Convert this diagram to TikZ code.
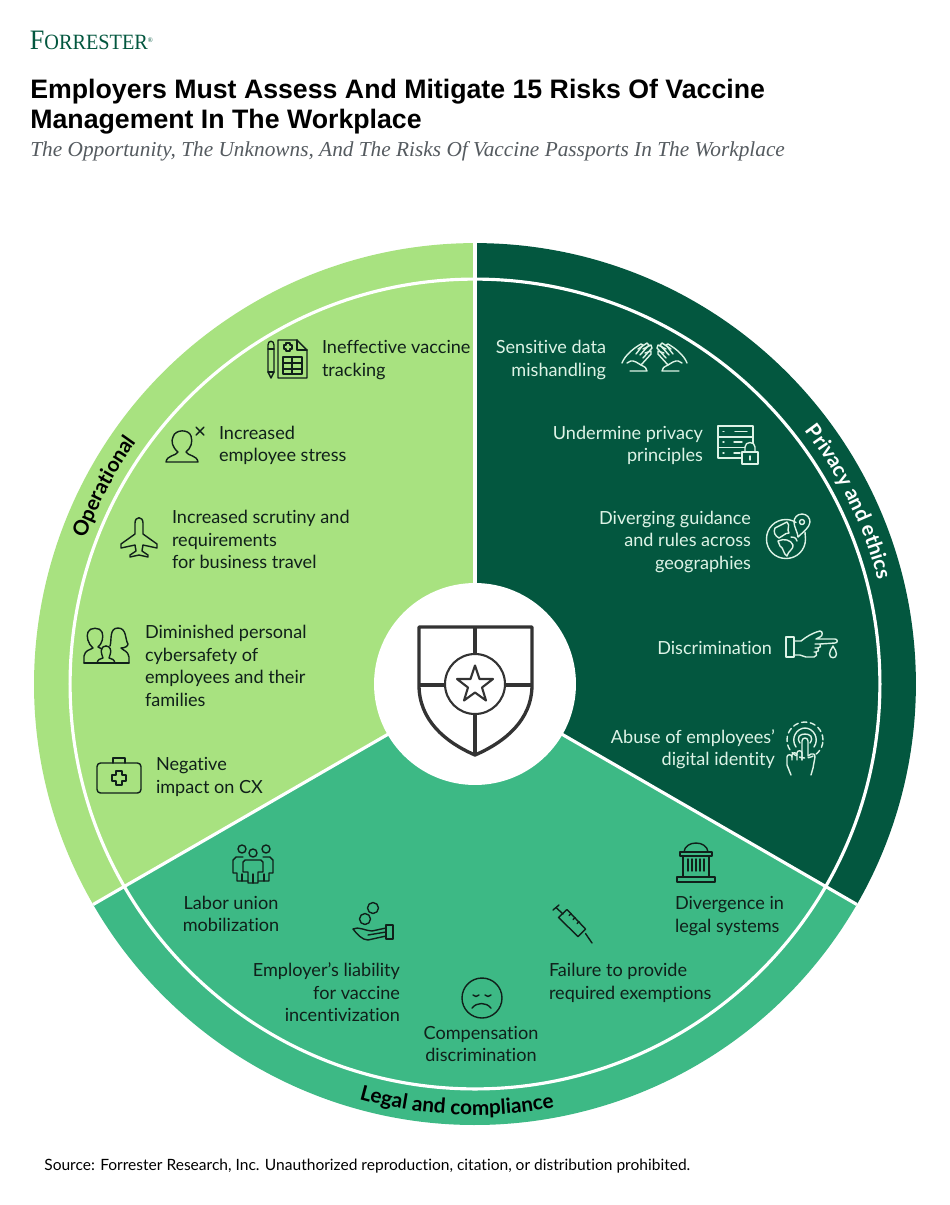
\documentclass[tikz,border=0pt]{standalone}
\usepackage{fontspec}
\setmainfont[Ligatures = {NoCommon}]{Lato}
\newfontfamily\headfont{Liberation Sans}
\newfontfamily\subfont{Liberation Serif}
\newfontfamily\logofont[FakeStretch = 0.93]{Liberation Serif}
\usetikzlibrary{decorations.text}
\definecolor{oplight}{HTML}{A8E280}
\definecolor{privdark}{HTML}{03573F}
\definecolor{legalmid}{HTML}{3DB985}
\definecolor{mint}{HTML}{DDF3E6}
\definecolor{inkdark}{HTML}{10201A}
\definecolor{shieldgrey}{HTML}{333333}
\definecolor{subgrey}{HTML}{555B60}

\begin{document}
\begin{tikzpicture}[
                x = 0.02cm,
                y = -0.02cm,
                lbl/.style = {
                    inner sep = 0pt,
                    outer sep = 0pt,
                    text = #1,
                    font = \fontsize{10.3}{12.8}\selectfont
                },
                lbl/.default = inkdark,
                lbll/.style = {lbl, align = left, anchor = west},
                lblr/.style = {lbl = mint, align = right, anchor = east},
                lblm/.style = {lbl, align = center, anchor = center},
                icon/.style = {
                    draw = #1,
                    line width = 0.8pt,
                    line join = round,
                    line cap = round
                },
                icon/.default = inkdark,
                spoke/.style = {draw = white, line width = 1.8pt},
                arclabel/.style = {
                    decorate,
                    decoration = {
                        text along path,
                        text align = center,
                        text = {|\fontsize{#1}{#1}\selectfont\bfseries\color{\arccolor}|\arctext}
                    }
                }
            ]
            \useasboundingbox (0,0) rectangle (950,1205);
            \fill[white] (0,0) rectangle (950,1205);
            \coordinate (centre) at (475,684);
            % 
            \node[anchor = base west, inner sep = 0pt, text = privdark, font = \logofont] (logo) at (29.5,49)
                {\fontsize{16}{16}\selectfont F\fontsize{12.4}{12}\selectfont ORRESTER\raisebox{3.5pt}{\fontsize{4}{4}\selectfont\textregistered}};
            \node[anchor = west, inner sep = 0pt, align = left, font = \fontsize{15.2}{17.1}\selectfont\headfont\bfseries] (title) at (30,107)
                {Employers Must Assess And Mitigate 15 Risks Of Vaccine\\Management In The Workplace};
            \node[anchor = west, inner sep = 0pt, text = subgrey, font = \fontsize{12.13}{14}\selectfont\subfont\itshape] (subtitle) at (30,151)
                {The Opportunity, The Unknowns, And The Risks Of Vaccine Passports In The Workplace};
            \node[anchor = west, inner sep = 0pt, text = black, font = \fontsize{8.85}{10}\selectfont] (source) at (44,1166)
                {Source: Forrester Research, Inc. Unauthorized reproduction, citation, or distribution prohibited.};
            % 
            % sectors
            \fill[privdark] (centre) -- +(90:8.82cm) arc[start angle = 90, end angle = -30, radius = 8.82cm] -- cycle;
            \fill[legalmid] (centre) -- +(-30:8.82cm) arc[start angle = -30, end angle = -150, radius = 8.82cm] -- cycle;
            \fill[oplight] (centre) -- +(210:8.82cm) arc[start angle = 210, end angle = 90, radius = 8.82cm] -- cycle;
            \draw[spoke] (centre) -- +(90:8.82cm);
            \draw[spoke] (centre) -- +(-30:8.82cm);
            \draw[spoke] (centre) -- +(210:8.82cm);
            \draw[spoke] (centre) circle[radius = 8.10cm];
            \fill[white] (centre) circle[radius = 2.02cm];
            % 
            % ring labels
            \def\arccolor{black}
            \def\arctext{Operational}
            \path[arclabel = 11.8] (centre) ++(172:8.32cm) arc[start angle = 172, end angle = 132, radius = 8.32cm];
            \def\arccolor{white}
            \def\arctext{Privacy and ethics}
            \path[arclabel = 11.8] (centre) ++(46:8.32cm) arc[start angle = 46, end angle = 6, radius = 8.32cm];
            \def\arccolor{black}
            \def\arctext{Legal and compliance}
            \path[arclabel = 11.8] (centre) ++(243:8.62cm) arc[start angle = 243, end angle = 292, radius = 8.62cm];
            % 
            % operational
            \node[lbll] (l1) at (322,360) {Ineffective vaccine\\tracking};
            \node[lbll] (l2) at (219,445.5) {Increased\\employee stress};
            \node[lbll] (l3) at (172,539.5) {Increased scrutiny and\\requirements\\for business travel};
            \node[lbll] (l4) at (145,666) {Diminished personal\\cybersafety of\\employees and their\\families};
            \node[lbll] (l5) at (156,777) {Negative\\impact on CX};
            % 
            % privacy and ethics
            \node[lblr] (r1) at (606,360) {Sensitive data\\mishandling};
            \node[lblr] (r2) at (703,445.5) {Undermine privacy\\principles};
            \node[lblr] (r3) at (751,541.5) {Diverging guidance\\and rules across\\geographies};
            \node[lblr] (r4) at (772,648) {Discrimination};
            \node[lblr] (r5) at (775,749) {Abuse of employees’\\digital identity};
            % 
            % legal and compliance
            \node[lblm] (b1) at (231,914) {Labor union\\mobilization};
            \node[lbl, align = right, anchor = east] (b2) at (400,992.5) {Employer’s liability\\for vaccine\\incentivization};
            \node[lblm] (b3) at (481,1044) {Compensation\\discrimination};
            \node[lbll] (b4) at (549,983) {Failure to provide\\required exemptions};
            \node[lbll] (b5) at (675,916) {Divergence in\\legal systems};
            % 
            % shield
            \draw[shieldgrey, line width = 1.9pt, line join = round] (419,627) -- (532,627) -- (532,685) .. controls (532,720) and (505,742) .. (475,755) .. controls (445,742) and (419,720) .. (419,685) -- cycle;
            \draw[shieldgrey, line width = 1.9pt] (475,627) -- (475,654);
            \draw[shieldgrey, line width = 1.9pt] (475,714) -- (475,755);
            \draw[shieldgrey, line width = 1.9pt] (419,685) -- (445,685);
            \draw[shieldgrey, line width = 1.9pt] (505,685) -- (532,685);
            \draw[shieldgrey, line width = 1.2pt] (475,684) circle[radius = 0.60cm];
            \draw[shieldgrey, line width = 1.2pt, line join = round] (475,665.5) -- (479.5,679) -- (493,679) -- (482,687.5) -- (486,700.5) -- (475,692.5) -- (464,700.5) -- (468,687.5) -- (457,679) -- (470.5,679) -- cycle;
            % 
            % vaccine tracking
            \draw[icon] (278,340) -- (297,340) -- (307,350) -- (307,378) -- (278,378) -- cycle;
            \draw[icon] (297,340) -- (297,350) -- (307,350);
            \draw[icon] (283,357) rectangle (302,374);
            \draw[icon] (292,357) -- (292,374);
            \draw[icon] (283,363) -- (302,363);
            \draw[icon] (283,369) -- (302,369);
            \draw[icon] (286,343) -- (290,343) -- (290,345) -- (292,345) -- (292,349) -- (290,349) -- (290,351) -- (286,351) -- (286,349) -- (284,349) -- (284,345) -- (286,345) -- cycle;
            \draw[icon] (268,345) .. controls (268,340) and (274,340) .. (274,345) -- (274,372) -- (271,378) -- (268,372) -- cycle;
            \draw[icon] (268,349) -- (274,349);
            \draw[icon] (268,372) -- (274,372);
            % 
            % employee stress
            \draw[icon] (166,462) .. controls (167,455) and (176,456) .. (178,452) .. controls (172,447) and (171,441) .. (173,437) .. controls (175,429) and (189,429) .. (191,436) .. controls (193,442) and (191,448) .. (186,452) .. controls (188,456) and (197,455) .. (198,462) -- cycle;
            \draw[icon] (196,427) -- (204,435);
            \draw[icon] (204,427) -- (196,435);
            % 
            % business travel
            \draw[icon] (135,523) .. controls (135,516) and (143,516) .. (143,523) -- (143,534) -- (157,544) -- (157,548) -- (143,545) -- (142,551) -- (148,555) -- (148,557) -- (139,555) -- (130,557) -- (130,555) -- (136,551) -- (135,545) -- (121,548) -- (121,544) -- (135,534) -- cycle;
            % 
            % family
            \draw[icon] (84,663) -- (129,663);
            \draw[icon] (84,663) -- (84,656) .. controls (85,650) and (90,650) .. (93,648) .. controls (88,644) and (86,636) .. (88,632) .. controls (90,627) and (100,627) .. (102,632) .. controls (104,637) and (102,644) .. (98,647) -- (102,649);
            \draw[icon] (129,663) -- (129,657) .. controls (128,651) and (124,651) .. (121,648) .. controls (125,648) and (128,646) .. (128,644) .. controls (125,640) and (127,628) .. (118,628) .. controls (109,628) and (112,640) .. (110,646);
            \draw[icon] (106,646) .. controls (102,646) and (100,650) .. (102,655) -- (103,658) .. controls (100,659) and (98,659) .. (97,663);
            \draw[icon] (106,646) .. controls (110,646) and (112,650) .. (110,655) -- (109,658) .. controls (112,659) and (114,659) .. (115,663);
            % 
            % customer experience
            \draw[icon, rounded corners = 2pt] (97,763) rectangle (141,793);
            \draw[icon] (113,763) -- (113,758) -- (125,758) -- (125,763);
            \draw[icon] (116,771) -- (122,771) -- (122,775) -- (126,775) -- (126,781) -- (122,781) -- (122,785) -- (116,785) -- (116,781) -- (112,781) -- (112,775) -- (116,775) -- cycle;
            % 
            % data mishandling
            \draw[icon = mint] (622,363) .. controls (625,355) and (634,348) .. (641,344) -- (643,345) -- (636,354);
            \draw[icon = mint] (638,349) -- (647,343) -- (649,345) -- (640,355);
            \draw[icon = mint] (643,349) -- (651,345) -- (652,348) -- (643,358);
            \draw[icon = mint] (645,353) -- (651,351) -- (651,354) -- (641,365) -- (636,362) .. controls (632,360) and (629,361) .. (627,363);
            \draw[icon = mint] (630,371) -- (647,371) .. controls (647,368) and (645,367) .. (641,365);
            \begin{scope}[shift = {(1309,0)}, xscale = -1]
                \draw[icon = mint] (622,363) .. controls (625,355) and (634,348) .. (641,344) -- (643,345) -- (636,354);
                \draw[icon = mint] (638,349) -- (647,343) -- (649,345) -- (640,355);
                \draw[icon = mint] (643,349) -- (651,345) -- (652,348) -- (643,358);
                \draw[icon = mint] (645,353) -- (651,351) -- (651,354) -- (641,365) -- (636,362) .. controls (632,360) and (629,361) .. (627,363);
                \draw[icon = mint] (630,371) -- (647,371) .. controls (647,368) and (645,367) .. (641,365);
            \end{scope}
            % 
            % privacy principles
            \draw[icon = mint] (742,458) -- (718,458) -- (718,426) -- (753,426) -- (753,443);
            \draw[icon = mint] (718,437) -- (753,437);
            \draw[icon = mint] (718,447.5) -- (745,447.5);
            \draw[icon = mint] (723,431.5) -- (724,431.5);
            \draw[icon = mint] (723,442) -- (724,442);
            \draw[icon = mint] (723,453) -- (724,453);
            \draw[icon = mint] (735,431.5) -- (747,431.5);
            \draw[icon = mint] (734,442) -- (742,442);
            \draw[icon = mint] (734,453) -- (740,453);
            \draw[icon = mint] (742,452) rectangle (758,464);
            \draw[icon = mint] (745,452) -- (745,447) .. controls (745,441) and (755,441) .. (755,447) -- (755,452);
            \draw[icon = mint] (750,456) -- (750,460);
            % 
            % geographies
            \draw[icon = mint] (796,522.5) .. controls (793,520.5) and (789,519.5) .. (786,519.5) .. controls (775,519.5) and (766.5,528) .. (766.5,539) .. controls (766.5,550) and (775,558.5) .. (786,558.5) .. controls (797,558.5) and (805.5,550) .. (805.5,539) -- (805,532);
            \draw[icon = mint] (802,514) .. controls (797,514) and (794,518) .. (794,522) .. controls (794,527) and (798,533) .. (798,537) .. controls (802,533) and (810,527) .. (810,522) .. controls (810,518) and (807,514) .. (802,514) -- cycle;
            \draw[icon = mint] (802,522) circle[radius = 0.05cm];
            \draw[icon = mint] (775,528) .. controls (779,526) and (783,524) .. (787,522) .. controls (791,526) and (786,529) .. (789,533) .. controls (784,533) and (783,537) .. (779,538) .. controls (775,536) and (773,532) .. (775,528) -- cycle;
            \draw[icon = mint] (778,541) .. controls (784,538) and (791,540) .. (793,545) .. controls (794,549) and (788,551) .. (787,556) .. controls (783,554) and (784,548) .. (780,546) -- cycle;
            \draw[icon = mint] (791,537) .. controls (793,537) and (796,537) .. (797,541);
            % 
            % discrimination
            \draw[icon = mint] (786,637) rectangle (794,657);
            \draw[icon = mint] (794,641) -- (801,641) .. controls (806,637) and (812,633) .. (820,631) .. controls (823,631) and (823,636) .. (820,637) -- (816,639) -- (835,639) .. controls (838,639) and (838,643) .. (835,643) -- (820,644) -- (815,644);
            \draw[icon = mint] (820,644) .. controls (822,646) and (820,648) .. (818,648) -- (815,648);
            \draw[icon = mint] (818,648) .. controls (820,650) and (818,652) .. (816,652) -- (814,652);
            \draw[icon = mint] (816,652) .. controls (818,654) and (816,657) .. (814,657) -- (806,657) -- (800,655) -- (794,655);
            \draw[icon = mint] (833,646) .. controls (835,650) and (836.5,651) .. (836.5,654) .. controls (836.5,659) and (829.5,659) .. (829.5,654) .. controls (829.5,651) and (831,650) .. (833,646) -- cycle;
            % 
            % digital identity
            \draw[icon = mint, dashed, dash pattern = on 3pt off 2pt] (805,740) circle[radius = 0.36cm];
            \draw[icon = mint] (796,747) .. controls (790,738) and (797,728) .. (805,728) .. controls (813,728) and (820,738) .. (814,747);
            \draw[icon = mint] (800,743) .. controls (796,737) and (800,734) .. (805,734) .. controls (810,734) and (814,737) .. (810,743);
            \draw[icon = mint] (802,760) -- (802,741) .. controls (802,737) and (808,737) .. (808,741) -- (808,756) -- (811,754) .. controls (813,753) and (815,754) .. (815,757) -- (813,768) -- (811,775);
            \draw[icon = mint] (802,760) -- (802,753) .. controls (802,750) and (797,750) .. (797,753) -- (797,760);
            \draw[icon = mint] (797,755) .. controls (797,752) and (792,752) .. (792,755) -- (792,760);
            \draw[icon = mint] (792,757) .. controls (792,754) and (787,754) .. (787,757) -- (787,765) -- (791,775);
            % 
            % labor union
            \draw[icon] (242,849) circle[radius = 0.08cm];
            \draw[icon] (253,853) circle[radius = 0.08cm];
            \draw[icon] (266,849) circle[radius = 0.08cm];
            \draw[icon] (245,860) -- (261,860) -- (263,862) -- (263,872) -- (258,872) -- (258,883) -- (248,883) -- (248,872) -- (243,872) -- (243,862) -- cycle;
            \draw[icon] (253,883) -- (253,874);
            \draw[icon] (243,857) -- (236,857) -- (233,860) -- (233,873) -- (237,873) -- (237,881) -- (248,881);
            \draw[icon] (242,881) -- (242,874);
            \draw[icon] (263,857) -- (270,857) -- (273,860) -- (273,873) -- (269,873) -- (269,881) -- (258,881);
            \draw[icon] (264,881) -- (264,874);
            % 
            % vaccine incentivization
            \draw[icon] (373,908) circle[radius = 0.11cm];
            \draw[icon] (365,919) circle[radius = 0.11cm];
            \draw[icon] (386,925) rectangle (393,939);
            \draw[icon] (386,928) -- (372,931) .. controls (366,931) and (358,926) .. (353,929) .. controls (357,934) and (362,940) .. (368,940) -- (386,936);
            \draw[icon] (386,932) -- (368,935);
            % 
            % compensation discrimination
            \draw[icon] (482,998) circle[radius = 0.40cm];
            \draw[icon] (473,995) .. controls (475,997) and (477,997) .. (479,995);
            \draw[icon] (485,995) .. controls (487,997) and (489,997) .. (491,995);
            \draw[icon] (472,1008) .. controls (477,1002) and (486,1002) .. (491,1008);
            % 
            % required exemptions
            \draw[icon] (553,910) -- (559,905);
            \draw[icon] (556,907.5) -- (563,914);
            \draw[icon] (558.5,917.5) -- (567,909.5) -- (585.5,929) -- (578,936.5) -- cycle;
            \draw[icon] (585.5,933.5) -- (592,943);
            \draw[icon] (571,913.5) -- (569,915.5);
            \draw[icon] (575,917.5) -- (573,919.5);
            \draw[icon] (579,921.5) -- (577,923.5);
            % 
            % legal systems
            \draw[icon] (684,852) .. controls (685,840) and (707,840) .. (708,852);
            \draw[icon] (680,852) rectangle (712,856);
            \draw[icon] (683,856) -- (683,877);
            \draw[icon] (709,856) -- (709,877);
            \draw[icon] (677,877) rectangle (715,882);
            \draw[icon] (688,859) -- (688,871);
            \draw[icon] (692,859) -- (692,871);
            \draw[icon] (696,859) -- (696,871);
            \draw[icon] (700,859) -- (700,871);
            \draw[icon] (704,859) -- (704,871);
            % 
        \end{tikzpicture}
\end{document}
